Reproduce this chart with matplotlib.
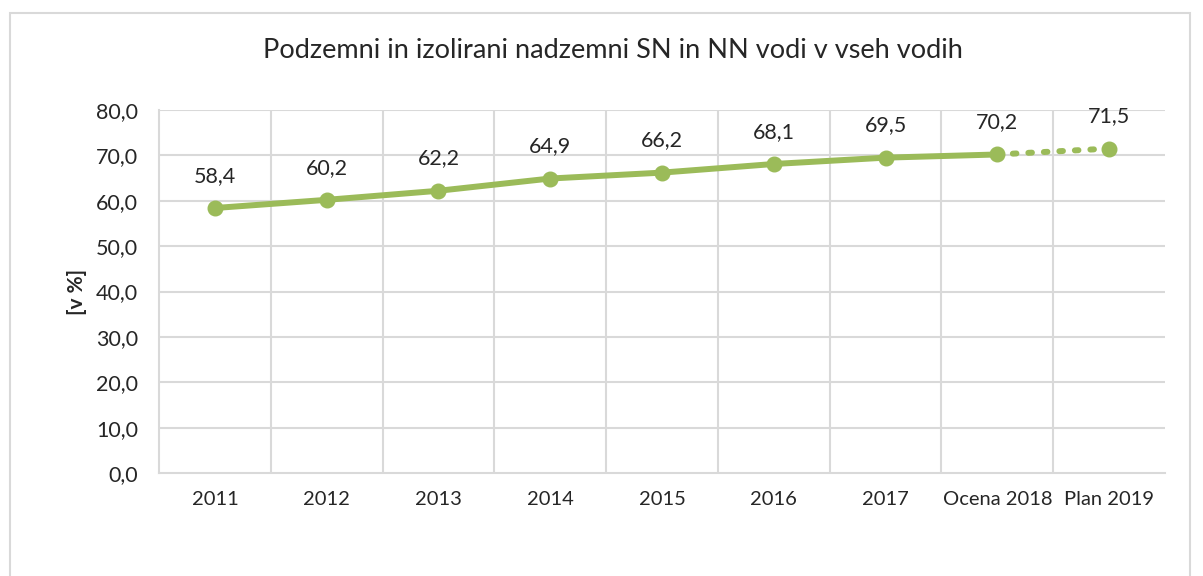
import matplotlib
matplotlib.use("Agg")
import matplotlib.pyplot as plt
from matplotlib.patches import Rectangle
from matplotlib.ticker import FuncFormatter, MultipleLocator

categories = ["2011", "2012", "2013", "2014", "2015", "2016", "2017", "Ocena 2018", "Plan 2019"]
values = [58.4, 60.2, 62.2, 64.9, 66.2, 68.1, 69.5, 70.2, 71.5]
title = "Podzemni in izolirani nadzemni SN in NN vodi v vseh vodih"
ylabel = "[v %]"

plt.rcParams['font.family'] = ['Lato', 'DejaVu Sans']
green = "#9BBB59"
grid_c = "#D9D9D9"
txt_c = "#262626"

W, H = 1203, 576
fig = plt.figure(figsize=(W / 100, H / 100), dpi=100)
fig.patch.set_facecolor("white")

# outer chart border
fig.patches.append(Rectangle((10 / W, -0.1), (1190 - 10) / W, 1.1 - 13 / H,
                             transform=fig.transFigure, fill=False,
                             edgecolor=grid_c, linewidth=1.5))

left, right, top, bottom = 159, 1165, 110, 473
ax = fig.add_axes([left / W, 1 - bottom / H, (right - left) / W, (bottom - top) / H])

n = len(categories)
x = list(range(n))
ax.set_xlim(-0.5, n - 0.5)
ax.set_ylim(0, 80)
ax.yaxis.set_major_locator(MultipleLocator(10))
ax.yaxis.set_major_formatter(FuncFormatter(lambda v, p: f"{v:.1f}".replace(".", ",")))
ax.set_xticks(x)
ax.set_xticklabels(categories)

# grid: horizontal at y ticks, vertical between categories
for yv in range(10, 81, 10):
    ax.axhline(yv, color=grid_c, lw=1.5, zorder=0)
for b in range(1, n):
    ax.axvline(b - 0.5, color=grid_c, lw=1.5, zorder=0)

for s in ["top", "right"]:
    ax.spines[s].set_visible(False)
ax.spines["left"].set_color(grid_c)
ax.spines["bottom"].set_color(grid_c)
ax.spines["left"].set_linewidth(1.5)
ax.spines["bottom"].set_linewidth(1.5)
ax.tick_params(length=0, colors=txt_c)
ax.tick_params(axis="y", labelsize=15.5, pad=15)
ax.tick_params(axis="x", labelsize=14.5, pad=13)

ax.plot(x[:-1], values[:-1], color=green, lw=4.3, marker="o", ms=10.5, zorder=3,
        solid_capstyle="round")
ax.plot(x[-2:], values[-2:], color=green, lw=4.3, ls=(0, (0.6, 2)), zorder=3,
        dash_capstyle="round")
ax.plot(x[-1:], values[-1:], color=green, marker="o", ms=10.5, lw=0, zorder=4)

for xi, v in zip(x, values):
    ax.annotate(f"{v:.1f}".replace(".", ","), (xi, v), xytext=(0, 16),
                textcoords="offset points", ha="center", va="bottom",
                fontsize=15.5, color=txt_c)

ax.set_ylabel(ylabel, fontsize=15, color=txt_c, fontweight="bold")
ax.yaxis.set_label_coords(-(left - 87) / (right - left), 0.5)
fig.text(613 / W, 1 - 50 / H, title, ha="center", va="center", fontsize=19.5, color=txt_c)

fig.savefig("out.png", dpi=100)
